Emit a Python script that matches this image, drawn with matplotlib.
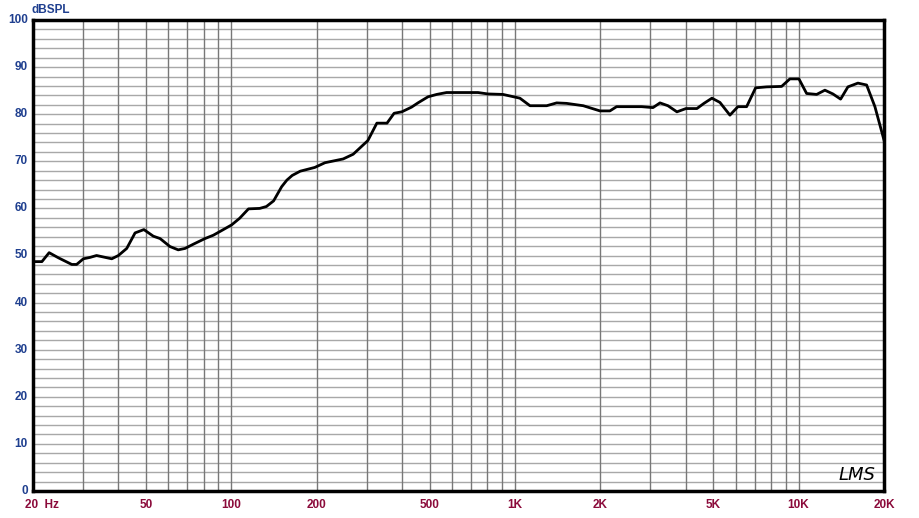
import numpy as np
import matplotlib.pyplot as plt

# response curve
freq = [20, 21.5, 22.8, 24.6, 27.4, 28.5, 30.1, 31.8, 33.5, 37.9, 40, 42.8, 45.8, 49.2,
        53.1, 56.1, 60.8, 65, 68.7, 73.5, 80.8, 86.4, 92.5, 100.3, 107, 115, 126, 133,
        141, 150.5, 157, 164, 175, 197, 214, 248, 269, 303, 326, 354, 375, 399, 432,
        455, 494, 530, 574, 741, 803, 907, 1041, 1130, 1294, 1403, 1521, 1741, 1994,
        2162, 2282, 2796, 3066, 3246, 3462, 3724, 4008, 4380, 4638, 4948, 5280, 5726,
        6110, 6558, 7054, 7714, 8712, 9318, 10026, 10672, 11576, 12380, 13212, 14062,
        14922, 16182, 17368, 18578, 20000]
spl = [48.7, 48.7, 50.6, 49.5, 48.1, 48.1, 49.3, 49.6, 50.0, 49.3, 50.0, 51.5, 54.8, 55.5,
       54.1, 53.6, 51.9, 51.2, 51.5, 52.4, 53.6, 54.3, 55.3, 56.5, 57.9, 59.9, 60.0, 60.4,
       61.6, 64.6, 66.0, 67.0, 67.9, 68.7, 69.7, 70.5, 71.5, 74.4, 78.1, 78.1, 80.2, 80.5, 81.5,
       82.4, 83.7, 84.2, 84.6, 84.6, 84.3, 84.2, 83.4, 81.8, 81.8, 82.4, 82.3, 81.8, 80.7,
       80.7, 81.6, 81.6, 81.4, 82.4, 81.8, 80.5, 81.2, 81.2, 82.3, 83.4, 82.5, 79.8,
       81.6, 81.6, 85.6, 85.8, 85.9, 87.5, 87.5, 84.4, 84.2, 85.1, 84.3, 83.2,
       85.8, 86.6, 86.2, 81.6, 74.5]

ytick_vals = list(range(0, 101, 10))
xtick_vals = [20, 50, 100, 200, 500, 1000, 2000, 5000, 10000, 20000]
xtick_text = ["20  Hz", "50", "100", "200", "500", "1K", "2K", "5K", "10K", "20K"]

vgrid = []
for dec in [10, 100, 1000, 10000]:
    for m in range(1, 10):
        f = m * dec
        if 20 <= f <= 20000:
            vgrid.append(f)
vgrid.append(20000)

blue = "#1f3f8f"
red = "#8b0a3a"

fig = plt.figure(figsize=(9.2, 5.18), dpi=100)
fig.patch.set_facecolor("white")
ax = fig.add_axes([33 / 920, 27 / 518, 851 / 920, 471 / 518])
ax.set_xscale("log")
ax.set_xlim(20, 20000)
ax.set_ylim(0, 100)

for yy in range(2, 100, 2):
    ax.axhline(yy, color="#a8a8a8", lw=1.0, zorder=1)
for f in vgrid:
    ax.axvline(f, color="#787878", lw=1.0, zorder=1)

ax.plot(freq, spl, color="black", lw=2.0, zorder=3)

for s in ax.spines.values():
    s.set_linewidth(2.5)
    s.set_color("black")

ax.set_xticks([])
ax.set_yticks([])
ax.minorticks_off()

for v in ytick_vals:
    ax.text(-0.006, v, str(v), transform=ax.get_yaxis_transform(), ha="right", va="center",
            fontsize=8.5, fontweight="bold", color=blue, family="Liberation Sans")
ax.text(-0.002, 101.5, "dBSPL", transform=ax.get_yaxis_transform(), ha="left", va="baseline",
        fontsize=8.5, fontweight="bold", color=blue, family="Liberation Sans")

for f, t in zip(xtick_vals, xtick_text):
    ha = "left" if f == 20 else "center"
    xx = 18.8 if f == 20 else f
    ax.text(xx, -0.018, t, transform=ax.get_xaxis_transform(), ha=ha, va="top",
            fontsize=8.5, fontweight="bold", color=red, family="Liberation Sans")

ax.text(0.99, 0.015, "LMS", transform=ax.transAxes, ha="right", va="bottom",
        fontsize=13, style="italic", color="black", family="DejaVu Sans", fontweight="light")

fig.savefig("out.png", dpi=100, facecolor="white")
